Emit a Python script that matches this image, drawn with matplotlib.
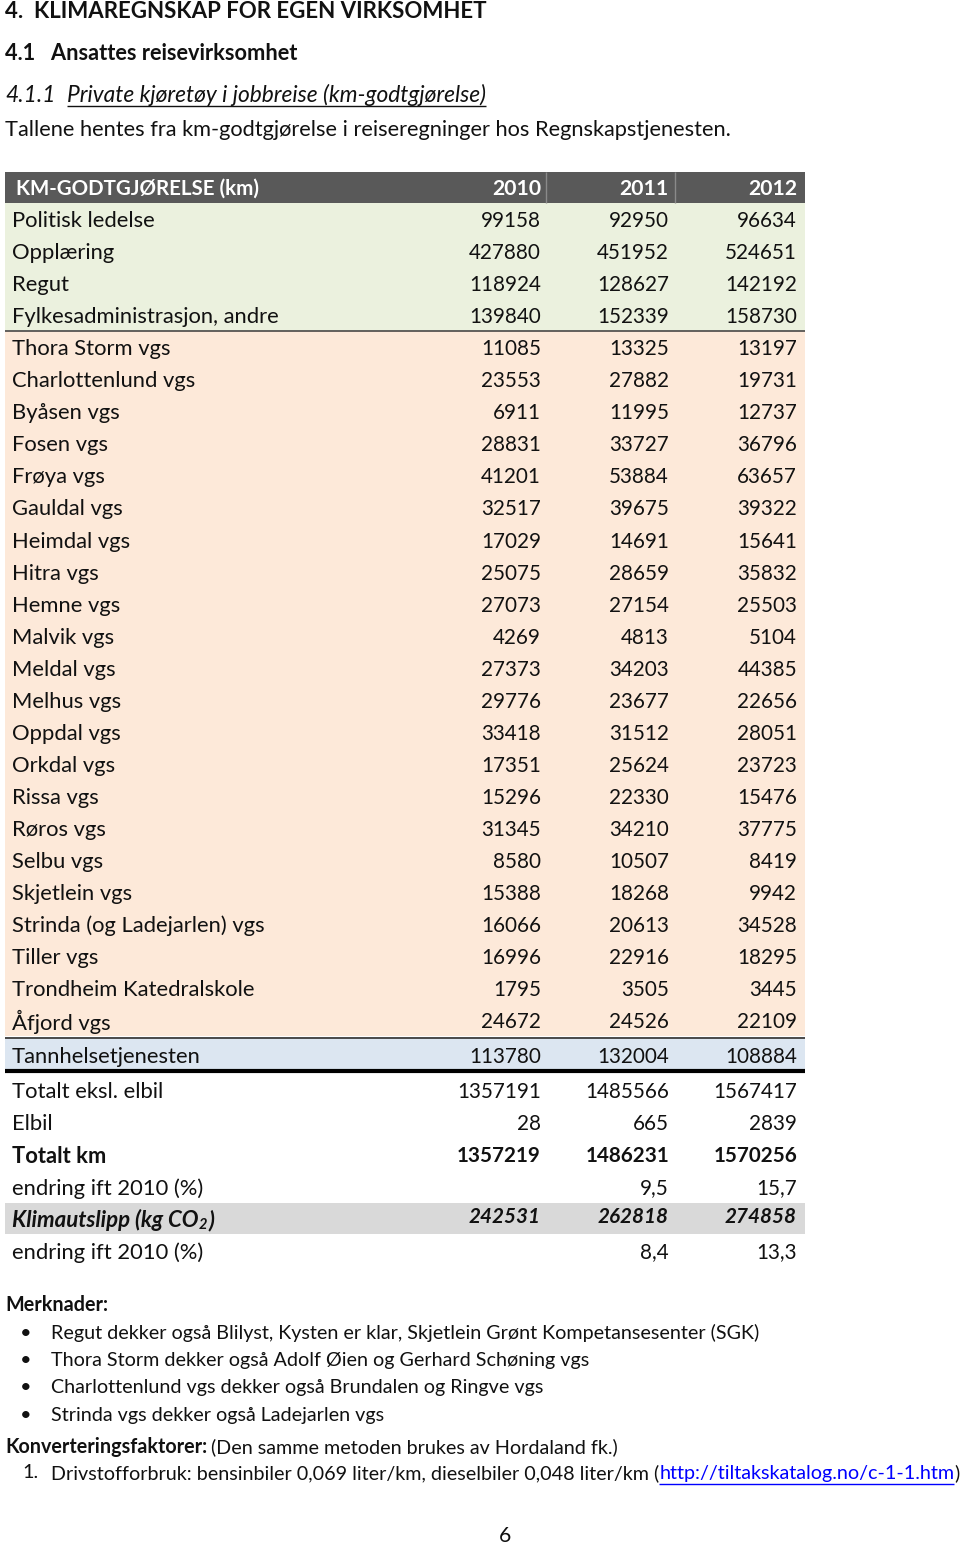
import matplotlib
matplotlib.use("Agg")
import matplotlib.pyplot as plt

plt.rcParams['font.family'] = ['Lato', 'DejaVu Sans']

# ---- data ----
enheter = ["Politisk ledelse", "Opplæring", "Regut", "Fylkesadministrasjon, andre",
           "Thora Storm vgs", "Charlottenlund vgs", "Byåsen vgs", "Fosen vgs", "Frøya vgs",
           "Gauldal vgs", "Heimdal vgs", "Hitra vgs", "Hemne vgs", "Malvik vgs", "Meldal vgs",
           "Melhus vgs", "Oppdal vgs", "Orkdal vgs", "Rissa vgs", "Røros vgs", "Selbu vgs",
           "Skjetlein vgs", "Strinda (og Ladejarlen) vgs", "Tiller vgs",
           "Trondheim Katedralskole", "Åfjord vgs", "Tannhelsetjenesten"]
gruppe = ["adm"] * 4 + ["vgs"] * 22 + ["tann"]
km_2010 = [99158, 427880, 118924, 139840, 11085, 23553, 6911, 28831, 41201, 32517, 17029,
           25075, 27073, 4269, 27373, 29776, 33418, 17351, 15296, 31345, 8580, 15388, 16066,
           16996, 1795, 24672, 113780]
km_2011 = [92950, 451952, 128627, 152339, 13325, 27882, 11995, 33727, 53884, 39675, 14691,
           28659, 27154, 4813, 34203, 23677, 31512, 25624, 22330, 34210, 10507, 18268, 20613,
           22916, 3505, 24526, 132004]
km_2012 = [96634, 524651, 142192, 158730, 13197, 19731, 12737, 36796, 63657, 39322, 15641,
           35832, 25503, 5104, 44385, 22656, 28051, 23723, 15476, 37775, 8419, 9942, 34528,
           18295, 3445, 22109, 108884]
aar = ["2010", "2011", "2012"]

totalt_eksl_elbil = [1357191, 1485566, 1567417]
elbil = [28, 665, 2839]
totalt_km = [1357219, 1486231, 1570256]
endring_km = [None, 9.5, 15.7]
klimautslipp = [242531, 262818, 274858]
endring_co2 = [None, 8.4, 13.3]

merknader = ["Regut dekker også Blilyst, Kysten er klar, Skjetlein Grønt Kompetansesenter (SGK)",
             "Thora Storm dekker også Adolf Øien og Gerhard Schøning vgs",
             "Charlottenlund vgs dekker også Brundalen og Ringve vgs",
             "Strinda vgs dekker også Ladejarlen vgs"]

farger = {"adm": "#ebf1de", "vgs": "#fde9d9", "tann": "#dce6f1"}

# ---- page ----
fig = plt.figure(figsize=(9.6, 15.45), dpi=100)
ax = fig.add_axes([0, 0, 1, 1])
ax.set_xlim(0, 960)
ax.set_ylim(1545, 0)
ax.axis('off')
renderer = fig.canvas.get_renderer()

FS = 14.2     # body text in notes
LAB = 15.8    # table labels
NUM = 14.9    # table numbers
ink = "#111111"


def width(t):
    return t.get_window_extent(renderer).width


# headings
ax.text(5, 12, "4.  KLIMAREGNSKAP FOR EGEN VIRKSOMHET", fontsize=16, fontweight='bold',
        va='center', color=ink)
ax.text(5, 54, "4.1   Ansattes reisevirksomhet", fontsize=15.7, fontweight='bold',
        va='center', color=ink)
ax.text(5, 95, "4.1.1", fontsize=16.4, style='italic', va='center', color=ink)
t = ax.text(67, 95, "Private kjøretøy i jobbreise (km-godtgjørelse)", fontsize=16.4,
            style='italic', va='center', color=ink)
ax.hlines(106, 67, 67 + width(t), color=ink, lw=1)
ax.text(5, 130, "Tallene hentes fra km-godtgjørelse i reiseregninger hos Regnskapstjenesten.",
        fontsize=15.7, va='center', color=ink)

# table
x_left, x_right = 5, 805
col_x = [541, 669, 797]
row_h = 32.05
dy = 2
y_head = 187
y_rows = [219 + i * row_h for i in range(len(enheter) - 1)]
y_rows.append(y_rows[-1] + 35)
y_sum = [y_rows[-1] + 35 + i * 32 for i in range(6)]

ax.barh([y_head], [x_right - x_left], left=x_left, height=31, color="#595959")
ax.vlines([546, 675], y_head - 15.5, y_head + 15.5, color="#8a8a8a", lw=1)
ax.text(16, y_head + dy, "KM-GODTGJØRELSE (km)", fontsize=14.8, fontweight='bold',
        color='white', va='center')
for cx, a in zip(col_x, aar):
    ax.text(cx, y_head + dy, a, fontsize=15.2, fontweight='bold', color='white',
            va='center', ha='right')

ax.barh(y_rows, [x_right - x_left] * len(y_rows), left=x_left, height=row_h,
        color=[farger[g] for g in gruppe])
for y, navn, a, b, c in zip(y_rows, enheter, km_2010, km_2011, km_2012):
    ax.text(12, y + dy, navn, fontsize=LAB, va='center', color=ink)
    for cx, v in zip(col_x, (a, b, c)):
        ax.text(cx, y + dy, str(v), fontsize=NUM, va='center', ha='right', color=ink)

ax.hlines((y_rows[3] + y_rows[4]) / 2, x_left, x_right, color="#3a3a3a", lw=1.1)
ax.hlines(y_rows[-1] - 17.5, x_left, x_right, color="#3a3a3a", lw=1.3)
ax.hlines(y_rows[-1] + 16, x_left, x_right, color="black", lw=3)

# summary rows
ax.barh([y_sum[4]], [x_right - x_left], left=x_left, height=31, color="#d9d9d9")


def fmt(v):
    if v is None:
        return ""
    if isinstance(v, float):
        return f"{v:.1f}".replace(".", ",")
    return str(v)


sum_rows = [("Totalt eksl. elbil", totalt_eksl_elbil, {}),
            ("Elbil", elbil, {}),
            ("Totalt km", totalt_km, {'fontweight': 'bold'}),
            ("endring ift 2010 (%)", endring_km, {}),
            (None, klimautslipp, {'fontweight': 'bold', 'style': 'italic'}),
            ("endring ift 2010 (%)", endring_co2, {})]
for y, (navn, vals, kw) in zip(y_sum, sum_rows):
    off = -3 if navn is None else 0
    if navn is not None:
        ax.text(12, y + dy, navn, fontsize=LAB, va='center', color=ink, **kw)
    else:
        t = ax.text(12, y + dy, "Klimautslipp (kg CO", fontsize=16, va='center', color=ink,
                    **kw)
        x2 = 12 + width(t)
        t2 = ax.text(x2, y + dy + 5, "2", fontsize=10.5, va='center', color=ink, **kw)
        ax.text(x2 + width(t2) + 1, y + dy, ")", fontsize=16, va='center', color=ink, **kw)
    for cx, v in zip(col_x, vals):
        ax.text(cx, y + dy + off, fmt(v), fontsize=NUM, va='center', ha='right', color=ink,
                **kw)

# notes
ax.text(5, 1305, "Merknader:", fontsize=FS, fontweight='bold', va='center', color=ink)
for i, m in enumerate(merknader):
    y = 1333 + i * 27.4
    ax.text(26, y, "•", fontsize=FS, va='center', ha='center', color=ink)
    ax.text(51, y, m, fontsize=FS, va='center', color=ink)

t = ax.text(5, 1447, "Konverteringsfaktorer:", fontsize=FS, fontweight='bold', va='center',
            color=ink)
ax.text(5 + width(t) + 4, 1447, "(Den samme metoden brukes av Hordaland fk.)", fontsize=FS,
        va='center', color=ink)

ax.text(22, 1473, "1.", fontsize=FS, va='center', color=ink)
t = ax.text(51, 1473, "Drivstofforbruk: bensinbiler 0,069 liter/km, dieselbiler 0,048 liter/km (",
            fontsize=FS, va='center', color=ink)
xl = 51 + width(t)
t = ax.text(xl, 1473, "http://tiltakskatalog.no/c-1-1.htm", fontsize=FS, va='center',
            color="#0000ff")
ax.hlines(1484, xl, xl + width(t), color="#0000ff", lw=1)
ax.text(xl + width(t), 1473, ")", fontsize=FS, va='center', color=ink)

ax.text(505, 1536, "6", fontsize=FS + 1, va='center', ha='center', color=ink)

fig.savefig("out.png", dpi=100)
